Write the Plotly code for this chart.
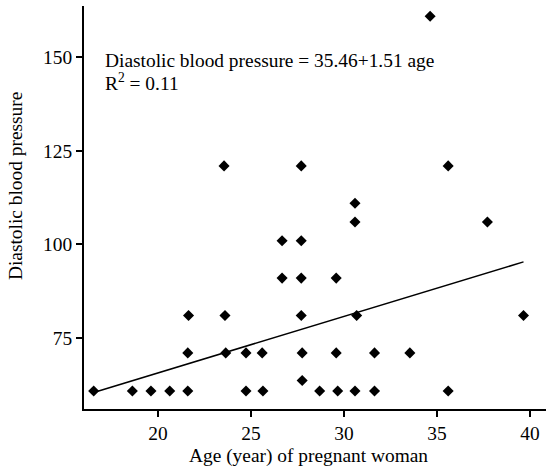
import plotly.graph_objects as go

# Data
age = [16.54, 18.62, 19.62, 20.63, 21.60, 24.73, 25.64, 28.69, 29.66, 30.59, 31.64, 35.60,
       27.75,
       21.60, 23.64, 24.73, 25.60, 27.75, 29.58, 31.64, 33.54,
       21.64, 23.60, 27.70, 30.68, 39.65,
       26.67, 27.70, 29.58,
       26.67, 27.70,
       30.59, 37.71,
       30.59,
       23.55, 27.70, 35.60,
       34.63]
dbp = [60.8] * 12 + [63.6] + [71] * 8 + [81] * 5 + [91] * 3 + [101] * 2 + [106] * 2 + [111] + [121] * 3 + [161]

intercept = 35.46
slope = 1.51
r_squared = 0.11

x_ticks = [20, 25, 30, 35, 40]
y_ticks = [75, 100, 125, 150]

FONT = "Liberation Serif"
FS = 19.4

fit_x = [min(age), max(age)]
fit_y = [intercept + slope * v for v in fit_x]

fig = go.Figure()
fig.add_trace(go.Scatter(x=fit_x, y=fit_y, mode="lines",
                         line=dict(color="black", width=1.5), showlegend=False,
                         hoverinfo="skip"))
fig.add_trace(go.Scatter(x=age, y=dbp, mode="markers",
                         marker=dict(symbol="diamond", size=8.5, color="black"),
                         showlegend=False))

axis_common = dict(showline=True, linewidth=2, linecolor="black", ticks="outside",
                   ticklen=6, tickwidth=2, tickcolor="black", showgrid=False,
                   zeroline=False, tickfont=dict(family=FONT, size=FS, color="black"))

fig.update_xaxes(range=[16.02, 40.86], tickvals=x_ticks, **axis_common)
fig.update_yaxes(range=[56.0, 163.75], tickvals=y_ticks, **axis_common)

fig.update_layout(
    width=546, height=472,
    margin=dict(l=84, r=0, t=6, b=63),
    plot_bgcolor="white", paper_bgcolor="white",
    font=dict(family=FONT, size=FS, color="black"),
    annotations=[
        dict(text=f"Diastolic blood pressure = {intercept:.2f}+{slope:.2f} age",
             x=0.0418, y=149.3, xref="paper", yref="y", xanchor="left", yanchor="middle",
             showarrow=False, font=dict(family=FONT, size=FS, color="black")),
        dict(text=f"R<sup>2</sup> = {r_squared:.2f}",
             x=0.0418, y=143.4, xref="paper", yref="y", xanchor="left", yanchor="middle",
             showarrow=False, font=dict(family=FONT, size=FS, color="black")),
        dict(text="Diastolic blood pressure", textangle=-90,
             x=-0.1494, y=0.553, xref="paper", yref="paper",
             xanchor="center", yanchor="middle", showarrow=False,
             font=dict(family=FONT, size=FS, color="black")),
        dict(text="Age (year) of pregnant woman",
             x=0.487, y=-0.1159, xref="paper", yref="paper",
             xanchor="center", yanchor="middle", showarrow=False,
             font=dict(family=FONT, size=FS, color="black")),
    ],
)

fig.write_html("out.html")
